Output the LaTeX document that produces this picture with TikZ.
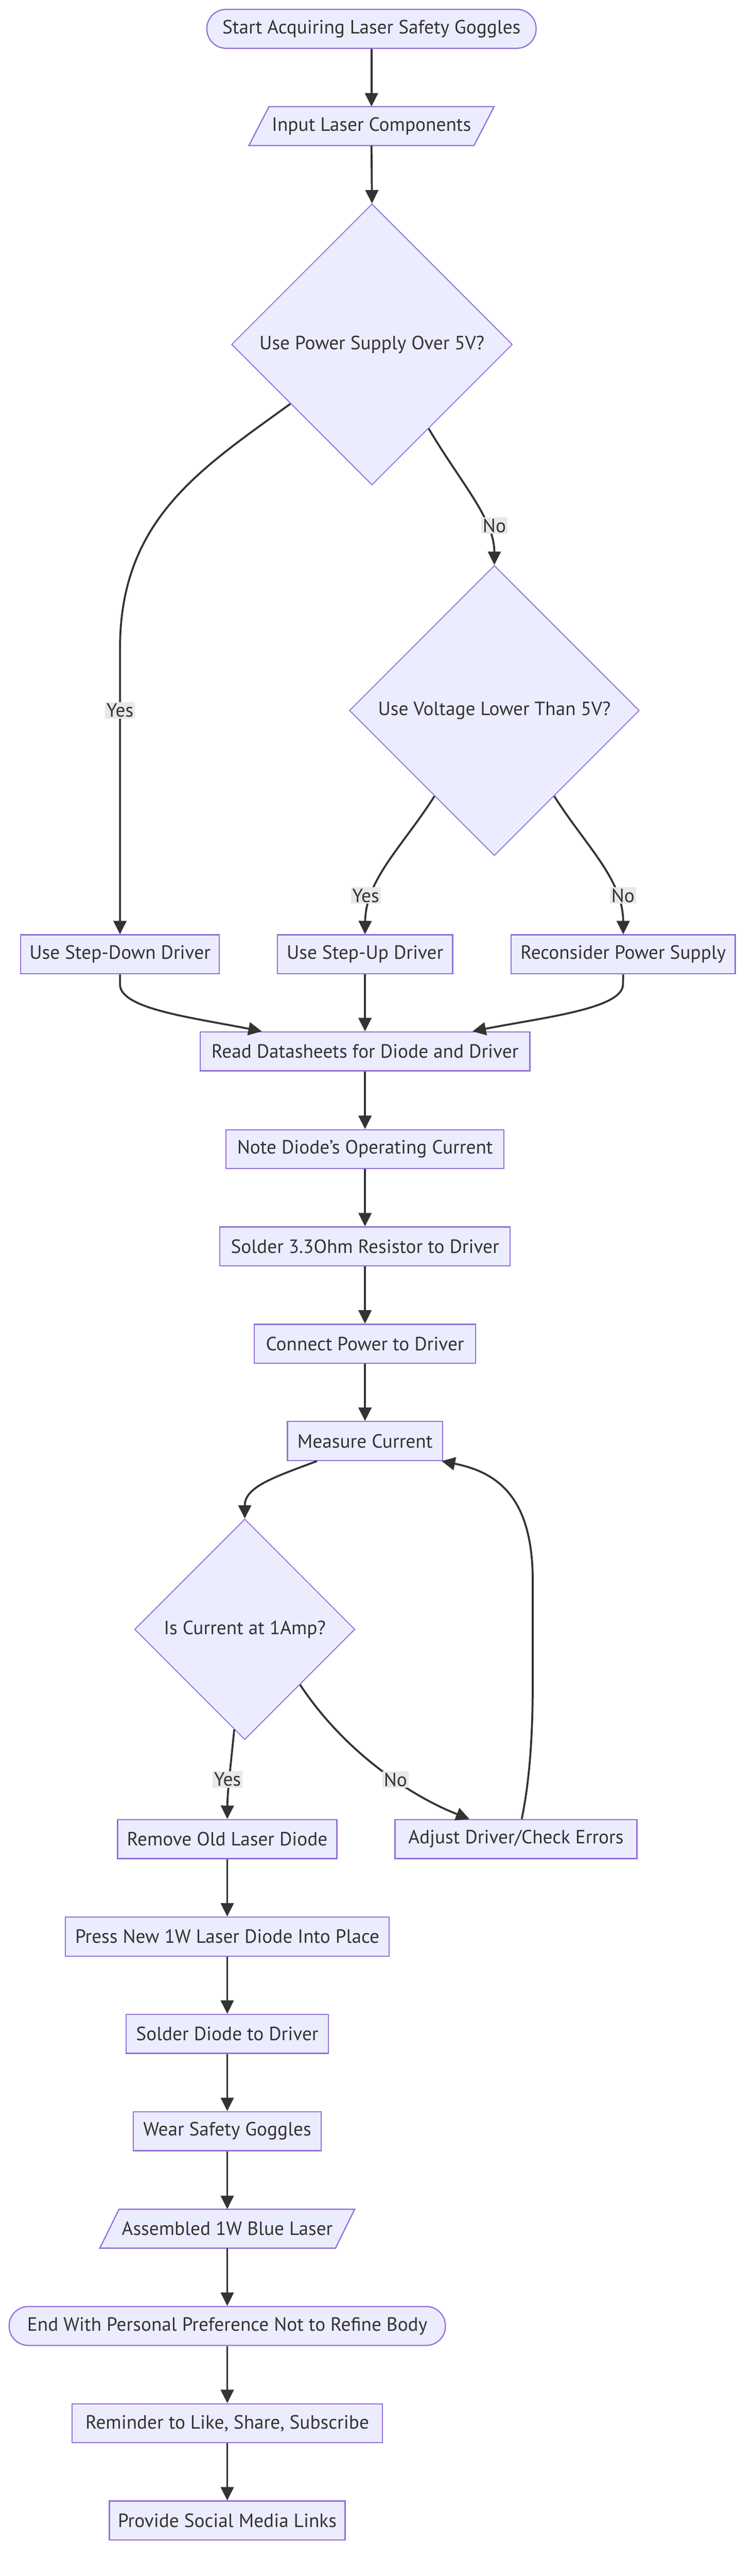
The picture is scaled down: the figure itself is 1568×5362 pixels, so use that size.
\documentclass[tikz,border=0pt]{standalone}
\usepackage{fontspec}
\setmainfont{PT Sans}
\usetikzlibrary{shapes.geometric,arrows.meta,backgrounds}
\definecolor{nodefill}{HTML}{ECECFF}
\definecolor{nodestroke}{HTML}{9370DB}
\definecolor{linec}{HTML}{333333}
\definecolor{labelfill}{HTML}{E8E8E8}
\begin{document}
\begin{tikzpicture}[x=1pt,y=-1pt,
  every node/.style={font=\fontsize{40}{44}\selectfont, text=linec},
  box/.style={draw=nodestroke, fill=nodefill, line width=2.5pt, rectangle, minimum height=81pt, inner sep=0pt},
  stad/.style={box, rounded corners=40pt},
  dec/.style={draw=nodestroke, fill=nodefill, line width=2pt, diamond, aspect=1, inner sep=0pt},
  io/.style={rectangle, minimum height=81pt, inner sep=0pt},
  iofill/.style={draw=nodestroke, fill=nodefill, line width=2.5pt},
  arr/.style={draw=linec, line width=4pt, -{Triangle[length=28pt,width=27pt]}},
  lbl/.style={fill=labelfill, inner sep=3pt}
]
\useasboundingbox (0,0) rectangle (1568,5362);

% nodes
\node[stad, minimum width=686pt] (start) at (774,60) {Start Acquiring Laser Safety Goggles};
\node[io, minimum width=511pt] (inp) at (774,262.5) {Input Laser Components};
\node[dec, minimum width=585pt, minimum height=585pt] (d1) at (775,717) {Use Power Supply Over 5V?};
\node[dec, minimum width=604pt, minimum height=604pt] (d2) at (1030,1479) {Use Voltage Lower Than 5V?};
\node[box, minimum width=414pt] (sd) at (250,1986.5) {Use Step-Down Driver};
\node[box, minimum width=365pt] (su) at (760.5,1986.5) {Use Step-Up Driver};
\node[box, minimum width=467pt] (rc) at (1298.5,1986.5) {Reconsider Power Supply};
\node[box, minimum width=687pt] (read) at (760.5,2188.5) {Read Datasheets for Diode and Driver};
\node[box, minimum width=579pt] (note) at (760.5,2392) {Note Diode's Operating Current};
\node[box, minimum width=605pt] (sres) at (760.5,2594.5) {Solder 3.3Ohm Resistor to Driver};
\node[box, minimum width=461pt] (conn) at (760.5,2797) {Connect Power to Driver};
\node[box, minimum width=323pt] (meas) at (760.5,2999.5) {Measure Current};
\node[dec, minimum width=459pt, minimum height=459pt] (d3) at (510,3391.5) {Is Current at 1Amp?};
\node[box, minimum width=457pt] (rem) at (473.5,3828) {Remove Old Laser Diode};
\node[box, minimum width=504pt] (adj) at (1075,3828) {Adjust Driver/Check Errors};
\node[box, minimum width=675pt] (press) at (473.5,4031) {Press New 1W Laser Diode Into Place};
\node[box, minimum width=421pt] (sdio) at (473.5,4233.5) {Solder Diode to Driver};
\node[box, minimum width=391pt] (wear) at (473.5,4436) {Wear Safety Goggles};
\node[io, minimum width=531pt] (asm) at (473.5,4639) {Assembled 1W Blue Laser};
\node[stad, minimum width=909pt] (fin) at (473.5,4841.5) {End With Personal Preference Not to Refine Body};
\node[box, minimum width=647pt] (remind) at (473.5,5044) {Reminder to Like, Share, Subscribe};
\node[box, minimum width=491pt] (prov) at (473.5,5246.5) {Provide Social Media Links};

\begin{scope}[on background layer]
  \fill[white] (0,0) rectangle (1568,5362);
  \draw[iofill] ([shift={(-255.5,40.5)}]inp.center) -- ([shift={(213.5,40.5)}]inp.center)
     -- ([shift={(255.5,-40.5)}]inp.center) -- ([shift={(-213.5,-40.5)}]inp.center) -- cycle;
  \draw[iofill] ([shift={(-265.5,40.5)}]asm.center) -- ([shift={(225.5,40.5)}]asm.center)
     -- ([shift={(265.5,-40.5)}]asm.center) -- ([shift={(-225.5,-40.5)}]asm.center) -- cycle;
\end{scope}

% edges
\draw[arr] (start.south) -- (inp.north);
\draw[arr] (inp.south) -- (d1.north);
\draw[arr] (d1.216) .. controls (420,975) and (250,1080) .. (250,1350) -- (sd.north);
\draw[arr] (d1.-56) .. controls (960,1005) and (1030,1080) .. (d2.north);
\draw[arr] (d2.235) .. controls (840,1760) and (762,1830) .. (su.north);
\draw[arr] (d2.-55) .. controls (1220,1760) and (1298,1830) .. (rc.north);
\draw[arr] (sd.south) -- (250,2049) .. controls (250,2100) and (400,2118) .. ([xshift=-215pt]read.north);
\draw[arr] (su.south) -- (read.north);
\draw[arr] (rc.south) -- (1298,2049) .. controls (1298,2100) and (1130,2118) .. ([xshift=224pt]read.north);
\draw[arr] (read.south) -- (note.north);
\draw[arr] (note.south) -- (sres.north);
\draw[arr] (sres.south) -- (conn.north);
\draw[arr] (conn.south) -- (meas.north);
\draw[arr] ([xshift=-100pt]meas.south) .. controls (570,3075) and (510,3095) .. (d3.north);
\draw[arr] (d3.264) .. controls (478,3700) and (474,3730) .. (rem.north);
\draw[arr] (d3.-45) .. controls (720,3650) and (860,3740) .. ([xshift=-97pt]adj.north);
\draw[arr] ([xshift=12pt]adj.north) .. controls (1105,3700) and (1110,3600) .. (1110,3500) -- (1110,3291)
   .. controls (1110,3120) and (1040,3065) .. ([xshift=-3pt]meas.south east);
\draw[arr] (rem.south) -- (press.north);
\draw[arr] (press.south) -- (sdio.north);
\draw[arr] (sdio.south) -- (wear.north);
\draw[arr] (wear.south) -- (asm.north);
\draw[arr] (asm.south) -- (fin.north);
\draw[arr] (fin.south) -- (remind.north);
\draw[arr] (remind.south) -- (prov.north);

% edge labels
\node[lbl] (l1) at (250,1479) {Yes};
\node[lbl] (l2) at (1030,1094) {No};
\node[lbl] (l3) at (762,1864) {Yes};
\node[lbl] (l4) at (1298,1864) {No};
\node[lbl] (l5) at (474,3704) {Yes};
\node[lbl] (l6) at (824,3704) {No};
\end{tikzpicture}
\end{document}
